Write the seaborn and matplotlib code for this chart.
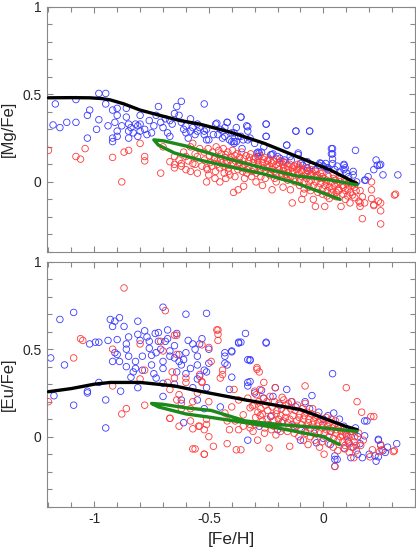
import numpy as np
import pandas as pd
import seaborn as sns
import matplotlib
matplotlib.use("Agg")
import matplotlib.pyplot as plt
from matplotlib.ticker import MultipleLocator, FuncFormatter

# ---------------- DATA ----------------
# Top panel: [Mg/Fe] vs [Fe/H]
mg_blue_feh = [-1.18,-1.17,-1.15,-1.12,-1.08,-1.08,-1.03,-1.03,-1.02,-0.99,-0.98,-0.95,-0.95,-0.98,-0.94,-0.92,-0.90,-0.90,-0.91,-0.90,
               -0.92,-0.92,-0.90,-0.88,-0.86,-0.86,-0.85,-0.85,-0.85,-0.84,-0.82,-0.81,-0.80,-0.80,-0.80,-0.81,-0.78,-0.77,-0.75,-0.74,
               -0.73,-0.72,-0.71,-0.70,-0.68,-0.67,-0.67,-0.65,-0.64,-0.63,-0.62,-0.61,-0.60,-0.60,-0.58,-0.57,-0.56,-0.55,-0.54,-0.52,
               -0.52,-0.51,-0.66,-0.69,-0.76,-0.83,-0.58,-0.62,-0.55,-0.59,
               -0.47,-0.45,-0.43,-0.42,-0.39,-0.38,-0.36,-0.48,-0.44,-0.40,-0.37,
               -0.52,-0.51,-0.50,-0.465,-0.46,-0.44,-0.43,-0.42,-0.41,-0.40,-0.39,-0.39,-0.36,-0.35,-0.335,-0.33,-0.33,-0.32,
               -0.29,-0.285,-0.28,-0.27,-0.25,-0.25,-0.23,-0.22,-0.20,-0.19,-0.175,-0.16,-0.145,-0.14,-0.12,-0.11,-0.10,-0.09,-0.07,-0.07,
               -0.06,-0.05,-0.035,-0.02,-0.01,0.0,0.01,0.015,0.02,0.04,0.04,0.04,0.05,0.06,0.07,0.09,0.09,0.10,0.11,0.13,
               0.13,0.14,0.145,0.18,0.195,0.22,0.23,0.235,0.245,0.25,0.26,0.325,0.04,0.09,0.095,0.185,
               -0.36,-0.33,-0.25,-0.25,-0.16,-0.12,-0.06,0.035,0.035,-0.38,-0.355,-0.285,-0.225,-0.17,-0.11,-0.07,-0.015,0.02,-0.30,-0.26]
mg_blue = [0.325,0.445,0.31,0.34,0.47,0.34,0.25,0.38,0.41,0.30,0.505,0.505,0.445,0.355,0.32,0.41,0.42,0.38,0.34,0.29,
           0.25,0.23,0.26,0.32,0.42,0.37,0.33,0.29,0.25,0.31,0.33,0.32,0.38,0.33,0.29,0.26,0.30,0.27,0.28,0.32,
           0.38,0.43,0.34,0.31,0.28,0.26,0.35,0.39,0.43,0.38,0.46,0.30,0.32,0.28,0.29,0.31,0.27,0.33,0.31,0.445,
           0.29,0.24,0.33,0.36,0.35,0.28,0.36,0.34,0.29,0.25,
           0.33,0.30,0.31,0.34,0.28,0.31,0.37,0.27,0.25,0.23,0.26,
           0.27,0.30,0.24,0.335,0.27,0.29,0.26,0.34,0.24,0.28,0.23,0.22,0.26,0.24,0.32,0.29,0.24,0.25,
           0.165,0.145,0.165,0.17,0.33,0.26,0.155,0.16,0.145,0.135,0.115,0.21,0.145,0.125,0.29,0.155,0.105,0.095,0.115,0.065,
           0.29,0.095,0.07,0.095,0.105,0.09,0.105,0.08,0.07,0.19,0.16,0.13,0.07,0.09,0.055,0.095,0.07,0.05,0.03,0.06,
           0.04,0.18,0.0,0.01,0.03,0.07,0.125,0.095,0.095,0.10,0.04,0.04,0.105,0.10,0.08,0.01,
           0.37,0.315,0.33,0.26,0.21,0.29,0.29,0.19,0.16,0.23,0.19,0.17,0.155,0.125,0.165,0.08,0.108,0.08,0.22,0.20]

mg_red_feh = [-1.20,-1.08,-1.06,-1.04,-0.92,-0.88,-0.87,-0.85,-0.80,-0.78,-0.78,-0.71,-0.70,-0.67,-0.65,-0.65,-0.63,-0.62,-0.62,-0.65,
              -0.61,-0.60,-0.58,-0.57,-0.57,-0.55,-0.55,-0.54,-0.53,-0.52,-0.52,-0.51,-0.50,-0.51,-0.59,-0.56,-0.60,-0.56,-0.58,
              -0.503,-0.497,-0.494,-0.506,-0.484,-0.476,-0.487,-0.473,-0.468,-0.474,-0.463,-0.471,-0.457,-0.464,-0.452,
              -0.446,-0.453,-0.448,-0.437,-0.444,-0.433,-0.426,-0.434,-0.428,-0.417,-0.423,-0.414,-0.426,-0.406,-0.413,
              -0.397,-0.404,-0.393,-0.408,-0.386,-0.394,-0.392,-0.377,-0.384,-0.373,-0.386,-0.366,-0.374,-0.372,
              -0.357,-0.364,-0.353,-0.346,-0.353,-0.344,-0.348,-0.337,-0.343,-0.334,-0.326,-0.334,-0.323,
              -0.317,-0.324,-0.313,-0.306,-0.313,-0.304,-0.297,-0.303,-0.294,-0.286,-0.293,-0.284,-0.277,-0.284,-0.273,
              -0.266,-0.274,-0.263,-0.257,-0.263,-0.254,-0.266,-0.246,-0.253,-0.244,-0.237,-0.243,-0.234,
              -0.226,-0.233,-0.224,-0.236,-0.217,-0.224,-0.213,-0.206,-0.213,-0.204,
              -0.197,-0.204,-0.193,-0.206,-0.186,-0.193,-0.184,-0.177,-0.184,-0.173,-0.166,-0.174,-0.163,-0.176,
              -0.157,-0.163,-0.154,-0.146,-0.153,-0.144,-0.156,-0.137,-0.143,-0.134,-0.126,-0.133,-0.124,-0.136,
              -0.117,-0.124,-0.113,-0.106,-0.113,-0.104,-0.097,-0.103,-0.094,-0.106,-0.086,-0.093,-0.084,
              -0.077,-0.084,-0.073,-0.086,-0.066,-0.073,-0.064,-0.057,-0.063,-0.054,
              -0.046,-0.053,-0.044,-0.056,-0.037,-0.043,-0.034,-0.035,-0.026,-0.033,-0.024,-0.017,-0.023,-0.014,
              -0.006,-0.013,-0.004,0.003,-0.003,0.006,-0.006,0.013,0.007,0.016,0.023,0.017,0.026,0.014,
              0.033,0.027,0.036,0.043,0.037,0.046,0.053,0.047,0.056,0.044,
              0.063,0.057,0.066,0.073,0.067,0.076,0.083,0.077,0.086,0.093,0.087,0.096,0.103,0.097,0.106,
              0.113,0.107,0.116,0.123,0.117,
              0.133,0.127,0.136,0.143,0.137,0.155,0.16,0.16,0.16,0.17,0.17,0.18,0.21,0.21,0.21,0.22,0.22,0.24,0.25,0.25,0.25,0.31,0.315]
mg_red = [0.18,0.145,0.13,0.19,0.14,0.0,0.17,0.18,0.22,0.145,0.12,0.05,0.20,0.115,0.10,0.145,0.125,0.105,0.09,0.08,
          0.17,0.145,0.20,0.22,0.105,0.05,0.145,0.19,0.09,0.17,0.125,0.08,0.04,0.0,0.12,0.16,0.07,0.10,0.06,
          0.19,0.15,0.11,0.07,0.17,0.13,0.09,0.02,0.20,0.14,0.10,0.06,0.18,0.12,0.00,0.16,0.08,0.13,
          0.19,0.11,0.05,0.155,0.09,0.14,0.17,0.12,0.06,0.02,0.125,0.08,0.18,0.14,0.10,0.04,0.15,0.11,-0.06,
          0.16,0.12,0.07,0.03,0.14,0.09,-0.045,0.17,0.11,0.06,0.13,0.08,0.02,-0.025,0.15,0.10,0.05,0.12,0.07,0.14,
          0.16,0.09,0.03,0.11,0.06,0.13,0.14,0.08,0.0,0.12,0.05,0.10,0.15,0.09,0.03,0.11,0.07,0.13,
          0.14,0.08,0.02,-0.02,0.10,0.06,0.12,0.13,0.08,0.04,0.11,0.05,-0.045,0.09,0.12,0.07,0.02,0.10,0.06,0.13,
          0.09,0.04,0.11,0.00,0.12,0.07,0.03,0.10,0.05,0.08,0.11,0.06,0.02,-0.03,0.09,0.04,0.07,
          0.10,0.05,-0.045,0.01,0.08,0.03,0.06,0.09,0.05,0.0,-0.12,0.07,0.02,0.10,0.08,0.04,-0.02,
          0.06,0.01,-0.10,0.09,0.07,0.03,-0.04,0.05,0.0,0.08,-0.065,0.06,0.02,-0.03,0.04,0.0,0.07,
          0.05,0.01,-0.10,-0.05,0.03,-0.02,0.06,-0.14,0.04,0.0,-0.06,0.02,-0.03,0.05,0.03,-0.01,-0.07,
          0.02,-0.04,-0.14,0.05,0.01,-0.02,-0.08,0.03,-0.05,-0.095,0.0,0.0,-0.03,-0.06,0.02,-0.04,-0.08,0.01,-0.02,-0.06,0.04,
          -0.01,-0.085,-0.04,0.0,-0.05,0.02,-0.02,-0.14,-0.07,0.01,-0.03,-0.10,-0.01,-0.05,-0.08,0.0,-0.04,-0.12,-0.02,-0.06,
          -0.01,-0.075,-0.03,-0.05,-0.09,-0.11,-0.14,-0.12,-0.05,-0.21,-0.085,-0.12,0.0,-0.045,-0.095,-0.135,-0.13,-0.11,-0.12,-0.165,-0.24,-0.075,-0.07]

# Model curves (top)
mg_model_feh = [-1.20,-1.10,-1.02,-0.97,-0.93,-0.87,-0.80,-0.70,-0.625,-0.54,-0.406,-0.26,-0.116,0.03,0.147]
mg_model = [0.48,0.481,0.48,0.476,0.468,0.445,0.41,0.375,0.35,0.33,0.284,0.221,0.145,0.068,-0.01]
mg_loop_feh = [0.147,0.03,-0.116,-0.26,-0.41,-0.54,-0.60,-0.70,-0.74,-0.72,-0.65,-0.54,-0.41,-0.26,-0.116,0.073]
mg_loop = [-0.017,0.011,0.034,0.078,0.13,0.18,0.205,0.235,0.24,0.21,0.165,0.125,0.087,0.045,-0.008,-0.10]

# Bottom panel: [Eu/Fe] vs [Fe/H]
eu_blue_feh = [-1.19,-1.15,-1.13,-1.09,-1.09,-1.03,-1.03,-1.02,-0.995,-0.98,-0.98,-0.95,-0.95,-0.94,-0.93,-0.92,-0.92,-0.91,-0.91,-0.90,
               -0.89,-0.89,-0.90,-0.87,-0.86,-0.86,-0.86,-0.85,-0.85,-0.83,-0.82,-0.82,-0.81,-0.81,-0.80,-0.79,-0.79,-0.78,-0.77,-0.76,
               -0.76,-0.75,-0.75,-0.73,-0.72,-0.72,-0.71,-0.70,-0.70,-0.69,-0.68,-0.67,-0.67,-0.65,-0.65,-0.64,-0.63,-0.63,-0.62,-0.61,
               -0.60,-0.60,-0.58,-0.57,-0.57,-0.55,-0.55,-0.54,-0.53,-0.52,-0.51,-0.51,-0.50,-0.50,-0.51,-0.61,-0.62,-0.65,-0.60,-0.70,
               -0.52,-1.176,-0.885,-0.81,-0.84,
               -0.734,-0.68,-0.64,-0.59,-0.56,-0.74,-0.73,-0.70,-0.55,-0.54,-0.70,-0.55,
               -0.37,-0.36,-0.34,-0.40,-0.43,-0.43,-0.33,-0.41,-0.32,-0.45,-0.37,-0.25,-0.43,-0.40,-0.32,-0.42,-0.40,-0.33,-0.16,-0.05,
               0.18,0.24,0.32,-0.25,-0.32,-0.33,-0.27,-0.21,0.04,0.045,-0.23,-0.28,-0.20,-0.10,-0.03,0.03,0.05,0.05,-0.33,0.19,
               0.18,0.24,0.26,0.24,0.23,0.225,0.12,0.06,0.05,0.09,0.11,
               -0.30,-0.26,-0.22,-0.19,-0.14,-0.12,-0.08,-0.06,-0.02,0.0,0.02,0.07,0.09,0.12,0.14,0.15,0.16,-0.18,-0.13,-0.08,
               -0.04,0.0,0.03,0.10,0.13,0.20,0.27,0.28,0.25,0.15,0.17]
eu_blue = [0.45,0.67,0.41,0.71,0.18,0.26,0.25,0.53,0.54,0.54,0.31,0.21,0.05,0.55,0.67,0.63,0.43,0.48,0.66,0.47,
           0.43,0.68,0.555,0.63,0.53,0.50,0.40,0.57,0.46,0.37,0.43,0.39,0.66,0.585,0.55,0.46,0.38,0.605,0.57,0.545,
           0.505,0.465,0.41,0.48,0.595,0.545,0.50,0.43,0.39,0.545,0.56,0.46,0.49,0.52,0.45,0.37,0.47,0.43,0.41,0.44,
           0.36,0.48,0.39,0.28,0.53,0.33,0.41,0.53,0.56,0.16,0.37,0.28,0.50,0.42,0.705,0.08,0.21,0.30,0.70,0.74,
           0.38,0.234,0.26,0.28,0.34,
           0.59,0.61,0.59,0.55,0.50,0.36,0.335,0.305,0.46,0.345,0.23,0.21,
           0.54,0.54,0.59,0.49,0.46,0.42,0.44,0.27,0.315,0.17,0.535,0.535,0.48,0.485,0.44,0.41,0.34,0.31,0.27,0.235,
           0.09,-0.02,-0.04,0.54,0.435,0.29,0.265,0.28,0.36,0.135,0.115,0.06,0.04,-0.02,-0.035,-0.045,-0.11,-0.13,-0.02,0.09,
           0.005,-0.015,-0.08,-0.115,-0.14,-0.11,-0.12,-0.13,-0.17,-0.065,-0.03,
           0.25,0.22,0.23,0.18,0.20,0.17,0.20,0.16,0.14,0.10,0.12,0.10,0.06,0.03,0.05,0.0,-0.04,0.08,0.06,0.03,
           0.02,-0.01,0.03,0.01,-0.06,-0.10,-0.09,-0.06,-0.05,-0.10,-0.12]

eu_red_feh = [-1.20,-1.09,-1.06,-1.05,-0.92,-0.88,-0.86,-0.87,-0.80,-0.78,-0.78,-0.69,-0.71,-0.70,-0.68,-0.67,-0.65,-0.64,-0.64,-0.63,
              -0.62,-0.62,-0.60,-0.58,-0.57,-0.56,-0.54,-0.53,-0.53,-0.52,-0.52,-0.51,-0.51,-0.50,-0.50,-0.54,-0.57,-0.80,-0.92,
              -0.65,-0.66,-0.60,-0.53,-0.67,-0.64,-0.55,-0.58,-0.545,-0.63,-0.67,-0.57,-0.52,
              -0.465,-0.46,-0.49,-0.44,-0.44,-0.45,-0.39,-0.37,-0.40,-0.43,-0.42,-0.385,-0.41,-0.37,-0.35,-0.32,-0.35,-0.32,-0.48,-0.36,-0.38,-0.42,
              -0.46,-0.46,-0.50,
              -0.303,-0.296,-0.307,-0.293,-0.286,-0.297,-0.283,-0.276,-0.287,-0.273,-0.266,-0.277,-0.263,-0.256,-0.267,-0.253,-0.246,-0.257,
              -0.243,-0.236,-0.247,-0.233,-0.226,-0.237,-0.223,-0.216,-0.227,-0.213,-0.206,-0.217,-0.203,-0.196,-0.207,-0.193,-0.186,-0.197,
              -0.183,-0.176,-0.187,-0.173,-0.166,-0.177,-0.163,-0.156,-0.167,-0.153,-0.146,-0.157,-0.143,-0.136,-0.147,-0.133,-0.126,-0.137,
              -0.123,-0.116,-0.127,-0.113,-0.106,-0.117,-0.103,-0.096,-0.107,-0.093,-0.086,-0.097,-0.083,-0.076,-0.087,-0.079,-0.073,-0.066,-0.077,
              -0.063,-0.056,-0.067,-0.053,-0.046,-0.057,-0.043,-0.036,-0.047,-0.033,-0.026,-0.037,-0.023,-0.016,-0.027,-0.013,-0.006,-0.017,
              -0.003,0.004,-0.007,0.007,0.014,0.003,0.017,0.024,0.013,0.027,0.034,0.023,0.037,0.044,0.033,0.047,0.054,0.043,0.057,0.064,0.053,
              0.067,0.074,0.063,0.077,0.084,0.073,0.087,0.094,0.083,0.097,0.104,0.093,0.107,0.114,0.103,0.117,0.124,0.113,0.127,0.134,
              0.137,0.144,0.133,0.147,0.154,0.143,0.167,0.174,0.163,0.207,0.214,0.203,0.22,0.245,0.25,0.255,0.31,0.305,
              0.10,-0.08,-0.21,-0.26,-0.28,-0.29,-0.29,0.05,-0.33,-0.31,-0.32,-0.30,-0.18]
eu_red = [0.20,0.45,0.56,0.55,0.29,0.13,0.16,0.85,0.53,0.38,0.18,0.72,0.545,0.49,0.31,0.105,0.335,0.58,0.47,0.24,
          0.19,0.16,0.31,0.16,0.20,-0.07,0.355,0.31,0.525,-0.10,0.04,0.07,0.10,0.20,0.0,0.06,0.045,0.33,0.50,
          0.58,0.37,0.335,0.315,0.27,0.21,0.25,0.09,0.06,0.06,0.105,-0.07,-0.10,
          0.61,0.55,0.43,0.38,0.355,0.335,0.27,0.21,0.17,0.135,0.09,0.09,0.04,0.04,0.06,0.07,0.125,0.165,-0.055,-0.075,-0.075,-0.04,
          0.61,0.585,0.51,
          0.18,0.11,0.03,0.24,0.14,0.07,0.20,0.12,-0.02,0.16,0.09,0.27,0.22,0.05,0.13,0.18,0.10,0.02,
          0.15,0.07,0.20,0.23,0.12,-0.065,0.17,0.09,0.04,0.20,0.13,0.06,0.15,0.10,0.01,0.19,0.12,0.07,
          0.16,0.09,0.03,0.21,0.11,0.05,0.14,0.08,0.18,0.19,0.10,0.03,0.16,0.07,-0.055,0.12,0.05,0.20,
          0.15,0.09,0.02,0.18,0.11,0.06,0.13,0.07,0.0,0.16,0.10,0.04,0.12,0.06,-0.02,0.19,0.14,0.08,0.02,
          0.10,0.05,-0.045,0.13,0.07,0.0,0.09,0.04,0.16,0.11,0.06,-0.02,0.08,0.03,0.12,0.10,0.05,-0.06,
          0.07,0.02,-0.03,0.09,0.04,-0.10,0.06,0.0,0.11,0.08,0.03,-0.04,0.05,-0.01,0.10,0.07,0.02,-0.06,0.04,-0.02,0.09,
          0.06,0.0,-0.08,0.03,-0.03,0.05,0.05,-0.05,0.01,0.02,-0.02,-0.07,0.04,-0.04,0.0,0.01,-0.06,-0.09,0.03,-0.03,
          0.0,-0.08,-0.12,0.20,0.02,-0.05,0.14,-0.02,-0.05,0.115,-0.075,-0.115,0.115,-0.085,-0.045,-0.075,-0.08,-0.085,
          0.28,0.29,0.28,0.31,0.37,0.385,0.395,-0.17,0.22,0.175,0.05,0.26,0.225]

# Model curves (bottom)
eu_model_feh = [-1.20,-1.10,-1.00,-0.93,-0.80,-0.65,-0.54,-0.34,-0.10,0.095,0.147]
eu_model = [0.257,0.275,0.30,0.31,0.31,0.29,0.26,0.21,0.155,0.06,0.04]
eu_loop_feh = [0.147,0.0,-0.20,-0.34,-0.49,-0.60,-0.70,-0.75,-0.72,-0.60,-0.49,-0.34,-0.20,0.0,0.07]
eu_loop = [0.03,0.05,0.07,0.09,0.15,0.165,0.185,0.19,0.17,0.13,0.11,0.08,0.05,0.0,-0.045]

# ---------------- PLOT ----------------
sns.set_style("ticks")
plt.rcParams["font.family"] = ["Liberation Sans", "DejaVu Sans"]
plt.rcParams["axes.unicode_minus"] = False

fig = plt.figure(figsize=(4.16, 5.49), dpi=100)
ax_top = fig.add_axes([0.1137, 0.5410, 0.8840, 0.4468])
ax_bot = fig.add_axes([0.1137, 0.0771, 0.8840, 0.4462])

def fmt(v, pos):
    return "%g" % v

panels = [
    (ax_top, mg_blue_feh, mg_blue, mg_red_feh, mg_red, mg_model_feh, mg_model, mg_loop_feh, mg_loop, "[Mg/Fe]"),
    (ax_bot, eu_blue_feh, eu_blue, eu_red_feh, eu_red, eu_model_feh, eu_model, eu_loop_feh, eu_loop, "[Eu/Fe]"),
]

for ax, bx, by, rx, ry, mx, my, lx, ly, ylab in panels:
    dfb = pd.DataFrame({"feh": bx, "val": by})
    dfr = pd.DataFrame({"feh": rx, "val": ry})
    sns.scatterplot(data=dfb, x="feh", y="val", ax=ax, marker="o", s=22,
                    facecolors="none", edgecolor="#3a3aff", linewidth=0.6, zorder=2)
    sns.scatterplot(data=dfr, x="feh", y="val", ax=ax, marker="o", s=22,
                    facecolors="none", edgecolor="#ff3a3a", linewidth=0.6, zorder=3)
    dfm = pd.DataFrame({"feh": mx, "val": my})
    dfl = pd.DataFrame({"feh": lx, "val": ly})
    sns.lineplot(data=dfm, x="feh", y="val", ax=ax, sort=False, estimator=None,
                 color="black", linewidth=2.4, zorder=4)
    sns.lineplot(data=dfl, x="feh", y="val", ax=ax, sort=False, estimator=None,
                 color="#1b8a1b", linewidth=2.4, zorder=5)

    ax.set_xlim(-1.205, 0.40)
    ax.set_ylim(-0.4, 1.0)
    ax.xaxis.set_major_locator(MultipleLocator(0.5))
    ax.xaxis.set_minor_locator(MultipleLocator(0.1))
    ax.yaxis.set_major_locator(MultipleLocator(0.5))
    ax.yaxis.set_minor_locator(MultipleLocator(0.1))
    ax.xaxis.set_major_formatter(FuncFormatter(fmt))
    ax.yaxis.set_major_formatter(FuncFormatter(fmt))
    ax.tick_params(which="both", direction="in", top=True, right=True,
                   color="#888888", labelsize=10, width=0.8)
    ax.tick_params(which="major", length=4, pad=4)
    ax.tick_params(which="minor", length=3.5)
    for sp in ax.spines.values():
        sp.set_color("#888888")
        sp.set_linewidth(0.8)
    ax.set_ylabel(ylab, fontsize=12, labelpad=5)
    ax.set_xlabel("")

ax_top.tick_params(labelbottom=False)
ax_bot.set_xlabel("[Fe/H]", fontsize=12.5, labelpad=4)

fig.savefig("out.png", dpi=100)
